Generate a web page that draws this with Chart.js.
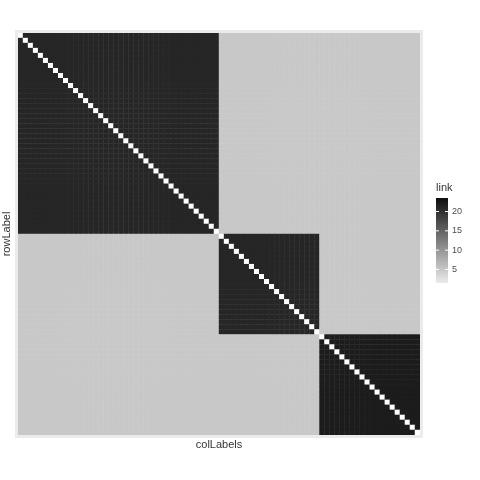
<!DOCTYPE html>
<html>
<head>
<meta charset="UTF-8">
<script src="https://cdn.jsdelivr.net/npm/chart.js"></script>
<style>body{margin:0;background:#fff}</style>
</head>
<body>
<div style="width:480px;height:480px"><canvas id="c"></canvas></div>
<script>
// block structure of the link matrix (rows/cols in order)
const blockSizes = [40, 20, 20];
const blockLink = [21, 21, 22];   // typical link inside a block
const crossLink = 5;              // typical link between blocks
const diagLink = 0;               // self link
const legendTicks = [5, 10, 15, 20];
const linkMax = 24;

const n = blockSizes.reduce((a, b) => a + b, 0);
const blockOf = [];
blockSizes.forEach((s, b) => { for (let i = 0; i < s; i++) blockOf.push(b); });

function grey(v) {
    const g = Math.round(255 * (1 - Math.min(v, linkMax) / linkMax) * 0.95 + 8);
    return 'rgb(' + g + ',' + g + ',' + g + ')';
}

const points = [], colors = [];
for (let r = 0; r < n; r++) {
    for (let c = 0; c < n; c++) {
        let v = r === c ? diagLink : (blockOf[r] === blockOf[c] ? blockLink[blockOf[r]] : crossLink);
        points.push({x: c, y: r, v: v});
        colors.push(r === c ? '#ffffff' : grey(v));
    }
}

const decor = {
    id: 'decor',
    beforeDatasetsDraw(chart) {
        const a = chart.chartArea, ctx = chart.ctx;
        ctx.fillStyle = '#ebebeb';
        ctx.fillRect(a.left - 3, a.top - 3, a.width + 6, a.height + 6);
    },
    afterDraw(chart) {
        const a = chart.chartArea, ctx = chart.ctx;
        ctx.save();
        ctx.fillStyle = '#333';
        ctx.font = '11px "Liberation Sans", Arial';
        ctx.textAlign = 'center';
        ctx.fillText('colLabels', (a.left + a.right) / 2, a.bottom + 13);
        ctx.translate(10, (a.top + a.bottom) / 2);
        ctx.rotate(-Math.PI / 2);
        ctx.fillText('rowLabel', 0, 0);
        ctx.restore();
        // legend
        const lx = 436, ly0 = 198, lh = 85, lw = 12;
        ctx.save();
        ctx.fillStyle = '#333';
        ctx.font = '11px "Liberation Sans", Arial';
        ctx.fillText('link', lx, 191);
        const g = ctx.createLinearGradient(0, ly0 + lh, 0, ly0);
        g.addColorStop(0, grey(1.5));
        g.addColorStop(1, grey(linkMax - 0.5));
        ctx.fillStyle = g;
        ctx.fillRect(lx, ly0, lw, lh);
        const vmin = 1.5, vmax = 23.5;
        ctx.font = '9px "Liberation Sans", Arial';
        ctx.textBaseline = 'middle';
        legendTicks.forEach(t => {
            const y = ly0 + lh - (t - vmin) / (vmax - vmin) * lh;
            ctx.strokeStyle = '#fff';
            ctx.beginPath();
            ctx.moveTo(lx, y); ctx.lineTo(lx + 3, y);
            ctx.moveTo(lx + lw - 3, y); ctx.lineTo(lx + lw, y);
            ctx.stroke();
            ctx.fillStyle = '#4d4d4d';
            ctx.fillText(String(t), lx + lw + 4, y);
        });
        ctx.restore();
    }
};

new Chart(document.getElementById('c'), {
    type: 'scatter',
    data: { datasets: [{
        data: points,
        backgroundColor: colors,
        borderWidth: 0,
        pointStyle: 'rect',
        pointRadius: ctx => {
            const a = ctx.chart.chartArea;
            return a ? (a.width / n) / Math.SQRT2 + 0.3 : 2;
        },
        pointHoverRadius: 0
    }]},
    options: {
        responsive: true, maintainAspectRatio: false, animation: false,
        layout: { padding: { left: 18, top: 33, right: 60, bottom: 45 } },
        plugins: { legend: { display: false }, tooltip: { enabled: false } },
        scales: {
            x: { display: false, min: -0.5, max: n - 0.5 },
            y: { display: false, reverse: true, min: -0.5, max: n - 0.5 }
        }
    },
    plugins: [decor]
});
</script>
</body>
</html>
